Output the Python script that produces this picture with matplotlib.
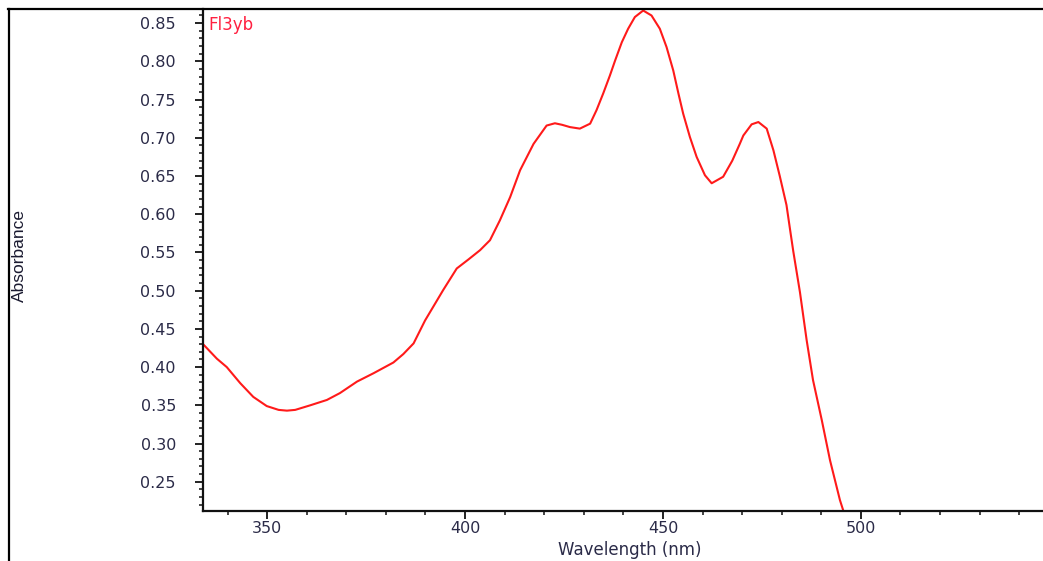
import matplotlib
matplotlib.use("Agg")
import matplotlib.pyplot as plt
from matplotlib.lines import Line2D
from matplotlib.ticker import MultipleLocator, FormatStrFormatter

# ---- data ----
wavelength = [334, 337.3, 339.8, 343.2, 346.5, 349.9, 352.9, 355, 357.1, 360.9,
              365.1, 368.4, 372.7, 376.9, 381.9, 384.4, 387, 389.9, 394.5, 397.9,
              400.9, 403.8, 406.3, 408.8, 411.4, 413.9, 417.3, 420.6, 422.7, 424.5,
              426.5, 429, 431.6, 433.2, 434.9, 436.6, 437.9, 439.6, 441.2, 442.9,
              445, 447.1, 449.2, 450.9, 452.6, 453.9, 455.1, 456.8, 458.5, 460.6,
              462.3, 465.2, 467.5, 469.4, 470.3, 472.4, 474.1, 476.2, 477.9, 479.5,
              481.2, 482.1, 482.9, 484.6, 486.3, 487.9, 490.1, 492.2, 494.7, 495.5]
absorbance = [0.429, 0.411, 0.400, 0.379, 0.361, 0.349, 0.344, 0.343, 0.344, 0.350,
              0.357, 0.366, 0.381, 0.392, 0.406, 0.417, 0.431, 0.461, 0.501, 0.529,
              0.541, 0.553, 0.566, 0.592, 0.6225, 0.6575, 0.692, 0.716, 0.719, 0.717,
              0.714, 0.712, 0.7185, 0.736, 0.758, 0.7816, 0.801, 0.825, 0.8427, 0.858,
              0.8665, 0.860, 0.8427, 0.8187, 0.788, 0.758, 0.7316, 0.701, 0.675, 0.651,
              0.6405, 0.649, 0.670, 0.692, 0.703, 0.7176, 0.7206, 0.712, 0.6836, 0.650,
              0.612, 0.580, 0.552, 0.498, 0.435, 0.383, 0.331, 0.278, 0.226, 0.213]
series_name = "Fl3yb"
x_label = "Wavelength (nm)"
y_label = "Absorbance"

W, H = 1043, 561
fig = plt.figure(figsize=(W / 100, H / 100), dpi=100)
fig.patch.set_facecolor("white")

left_px, right_px, top_px, bottom_px = 203, 1043, 9, 511
ax = fig.add_axes([left_px / W, (H - bottom_px) / H,
                   (right_px - left_px) / W, (bottom_px - top_px) / H])

ax.plot(wavelength, absorbance, color="#ff1a1a", lw=1.5, clip_on=True,
        solid_joinstyle="round")

ax.set_xlim(333.8, 546)
ax.set_ylim(0.2117, 0.8685)

ax.xaxis.set_major_locator(MultipleLocator(50))
ax.xaxis.set_minor_locator(MultipleLocator(10))
ax.yaxis.set_major_locator(MultipleLocator(0.05))
ax.yaxis.set_minor_locator(MultipleLocator(0.01))
ax.yaxis.set_major_formatter(FormatStrFormatter("%.2f"))

for s in ["top", "right"]:
    ax.spines[s].set_visible(False)
for s in ["left", "bottom"]:
    ax.spines[s].set_linewidth(1.6)
    ax.spines[s].set_color("#111111")

label_color = "#2b2b48"
ax.tick_params(axis="both", which="major", direction="out", length=5.5, width=1.3,
               color="#111111", labelcolor=label_color, labelsize=11.5)
ax.tick_params(axis="both", which="minor", direction="out", length=3.2, width=1.1,
               color="#111111")
ax.tick_params(axis="y", which="major", pad=14)
ax.tick_params(axis="x", which="major", pad=1.5)
for lab in ax.get_xticklabels() + ax.get_yticklabels():
    lab.set_family("DejaVu Sans")

ax.set_xlabel(x_label, fontsize=12, color=label_color, family="DejaVu Sans")
ax.xaxis.label.set_va("center")
ax.xaxis.set_label_coords((630 - left_px) / (right_px - left_px),
                          -(550 - bottom_px) / (bottom_px - top_px))

fig.text(19 / W, (H - 255) / H, y_label, rotation=90, ha="center", va="center",
         fontsize=12.5, color="#1a1a30",
         family=["Liberation Sans", "DejaVu Sans"])

ax.text(0.006, 0.987, series_name, transform=ax.transAxes, ha="left", va="top",
        fontsize=12, color="#ff2040", family="DejaVu Sans")

# outer frame lines (top and left)
fig.add_artist(Line2D([8 / W, 1], [(H - 8.5) / H, (H - 8.5) / H],
                      transform=fig.transFigure, color="black", lw=1.6))
fig.add_artist(Line2D([8.5 / W, 8.5 / W], [0, (H - 8.5) / H],
                      transform=fig.transFigure, color="black", lw=1.6))

fig.savefig("out.png", dpi=100, facecolor="white")
